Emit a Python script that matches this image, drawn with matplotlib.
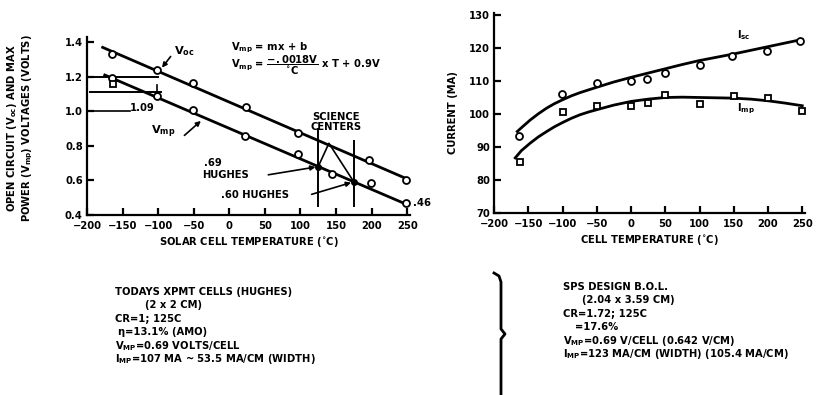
import matplotlib
matplotlib.use("Agg")
import matplotlib.pyplot as plt
from matplotlib.lines import Line2D

plt.rcParams['font.family'] = ['DejaVu Sans']
plt.rcParams['font.weight'] = 'bold'
plt.rcParams['mathtext.fontset'] = 'dejavusans'
plt.rcParams['mathtext.default'] = 'bf'

# Left panel: voltages vs solar cell temperature
temp_ticks = [-200, -150, -100, -50, 0, 50, 100, 150, 200, 250]
volt_ticks = [0.4, 0.6, 0.8, 1.0, 1.2, 1.4]

voc_line_t = [-178, 252]
voc_line_v = [1.37, 0.605]
voc_pts_t = [-165, -102, -51, 24, 97, 196, 248]
voc_pts_v = [1.33, 1.24, 1.165, 1.025, 0.876, 0.72, 0.604]

vmp_line_t = [-175, 250]
vmp_line_v = [1.21, 0.46]
vmp_pts_t = [-165, -102, -51, 22, 97, 145, 199, 248]
vmp_pts_v = [1.195, 1.09, 1.01, 0.857, 0.752, 0.64, 0.585, 0.467]
vmp_sq_t = [-163]
vmp_sq_v = [1.16]

science_t = [125, 175]
science_top = [0.90, 0.83]
science_vmp = [0.68, 0.592]

# Right panel: currents vs cell temperature
cur_ticks = [70, 80, 90, 100, 110, 120, 130]

isc_pts_t = [-164, -101, -50, 0, 23, 49, 100, 147, 198, 246]
isc_pts_i = [93.2, 106.0, 109.5, 110.0, 110.6, 112.4, 114.7, 117.6, 119.2, 122.1]
isc_fit_t = [-166, -158, -147, -135, -123, -112, -100, -87, -74, -62, -50, -25, 0, 25, 50, 75, 100, 125, 150, 175, 200, 225, 250]
isc_fit_i = [94.7, 96.2, 98.2, 100.1, 101.8, 103.1, 104.3, 105.5, 106.5, 107.3, 108.1, 109.7, 111.1, 112.4, 113.7, 115.0, 116.2, 117.2, 118.2, 119.3, 120.4, 121.5, 122.6]

imp_pts_t = [-162, -100, -50, 0, 25, 50, 100, 150, 200, 250]
imp_pts_i = [85.6, 100.5, 102.3, 102.5, 103.3, 105.8, 103.1, 105.3, 104.8, 100.8]
imp_fit_t = [-169, -160, -147, -135, -123, -112, -100, -87, -74, -62, -50, -25, 0, 25, 50, 75, 100, 125, 150, 175, 200, 225, 250]
imp_fit_i = [86.7, 88.9, 91.2, 93.1, 94.7, 96.1, 97.4, 98.7, 99.8, 100.6, 101.3, 102.7, 103.8, 104.5, 105.0, 105.1, 105.0, 104.9, 104.8, 104.5, 104.0, 103.3, 102.5]

W, H = 838, 395
fig = plt.figure(figsize=(W / 100, H / 100), dpi=100)

LW = 2.0
FS = 7.2


def px_axes(x0, y_bottom, x1, y_top):
    return fig.add_axes([x0 / W, 1 - y_bottom / H, (x1 - x0) / W, (y_bottom - y_top) / H])


def style(ax):
    for s in ('top', 'right'):
        ax.spines[s].set_visible(False)
    for s in ('left', 'bottom'):
        ax.spines[s].set_linewidth(1.6)
    ax.tick_params(direction='in', length=5, width=1.6, labelsize=FS)
    ax.tick_params(axis='x', pad=4)
    ax.tick_params(axis='y', pad=3)
    for lab in ax.get_xticklabels() + ax.get_yticklabels():
        lab.set_fontweight('bold')


mk = dict(ms=5, mfc='white', mec='black', mew=1.3, ls='none', zorder=4)
arrow = dict(arrowstyle='-|>', color='black', lw=1.2, mutation_scale=7)

# ---- left panel ----
ax1 = px_axes(87, 215, 410, 37)
ax1.set_xlim(-200, 254)
ax1.set_ylim(0.4, 1.43)
ax1.set_xticks(temp_ticks)
ax1.set_yticks(volt_ticks)
ax1.set_yticklabels(['0.4', '0.6', '0.8', '1.0', '1.2', '1.4'])
style(ax1)

ax1.plot(voc_line_t, voc_line_v, color='black', lw=LW)
ax1.plot(vmp_line_t, vmp_line_v, color='black', lw=LW)
ax1.plot(voc_pts_t, voc_pts_v, marker='o', **mk)
ax1.plot(vmp_pts_t, vmp_pts_v, marker='o', **mk)
ax1.plot(vmp_sq_t, vmp_sq_v, marker='s', **mk)

# reference levels at the cold end
ax1.plot([-200, -100], [1.2, 1.2], color='black', lw=1.4)
ax1.plot([-196, -96], [1.11, 1.11], color='black', lw=1.4)
ax1.plot([-102, -102], [1.08, 1.15], color='black', lw=1.2)
ax1.plot([-200, -140], [1.0, 1.0], color='black', lw=1.2)
ax1.text(-140, 1.02, '1.09', fontsize=FS, fontweight='bold', va='center', ha='left')

# science centre operating temperatures
for t, top, v in zip(science_t, science_top, science_vmp):
    ax1.plot([t, t], [0.45, top], color='black', lw=1.4)
    ax1.plot([t], [v], marker='o', ms=4, color='black', zorder=5)
ax1.plot([125, 140, 175], [0.68, 0.815, 0.592], color='black', lw=1.2)
ax1.text(150, 0.94, 'SCIENCE\nCENTERS', fontsize=FS, fontweight='bold',
         ha='center', va='center', linespacing=1.0)

ax1.annotate('', xy=(125, 0.68), xytext=(51, 0.63), arrowprops=arrow)
ax1.text(-36, 0.70, '.69', fontsize=FS, fontweight='bold', ha='left', va='center')
ax1.text(-38, 0.63, 'HUGHES', fontsize=FS, fontweight='bold', ha='left', va='center')
ax1.annotate('', xy=(175, 0.592), xytext=(112, 0.515), arrowprops=arrow)
ax1.text(-12, 0.515, '.60 HUGHES', fontsize=FS, fontweight='bold', ha='left', va='center')
ax1.text(258, 0.47, '.46', fontsize=FS, fontweight='bold', ha='left', va='center')

ax1.annotate('', xy=(-97, 1.24), xytext=(-80, 1.33), arrowprops=arrow)
ax1.text(-78, 1.35, r'V$_{oc}$', fontsize=FS + 1, ha='left', va='center')
ax1.annotate('', xy=(-37, 0.955), xytext=(-66, 0.85), arrowprops=arrow)
ax1.text(-110, 0.88, r'V$_{mp}$', fontsize=FS + 1, ha='left', va='center')

ax1.text(2, 1.37, r'V$_{mp}$ = mx + b', fontsize=FS, ha='left', va='center')
ax1.text(2, 1.265, r'V$_{mp}$ = $\dfrac{-.0018V}{^{\circ}C}$ x T + 0.9V', fontsize=FS,
         ha='left', va='center')

ax1.set_xlabel('SOLAR CELL TEMPERATURE ($^{\\circ}$C)', fontsize=FS, fontweight='bold', labelpad=3)
fig.text(20 / W, 1 - 128 / H,
         'OPEN CIRCUIT (V$_{oc}$) AND MAX\nPOWER (V$_{mp}$) VOLTAGES (VOLTS)',
         rotation=90, ha='center', va='center', fontsize=FS, fontweight='bold',
         multialignment='center', linespacing=1.1)

# ---- right panel ----
ax2 = px_axes(494, 213, 805, 13)
ax2.set_xlim(-200, 254)
ax2.set_ylim(70, 130.6)
ax2.set_xticks(temp_ticks)
ax2.set_yticks(cur_ticks)
style(ax2)

ax2.plot(isc_fit_t, isc_fit_i, color='black', lw=LW)
ax2.plot(imp_fit_t, imp_fit_i, color='black', lw=LW)
ax2.plot(isc_pts_t, isc_pts_i, marker='o', **mk)
ax2.plot(imp_pts_t, imp_pts_i, marker='s', **mk)
ax2.text(155, 124, r'I$_{sc}$', fontsize=FS, ha='left', va='center')
ax2.text(155, 101.5, r'I$_{mp}$', fontsize=FS, ha='left', va='center')
ax2.set_xlabel('CELL TEMPERATURE ($^{\\circ}$C)', fontsize=FS, fontweight='bold', labelpad=3)
fig.text(453 / W, 1 - 113 / H, 'CURRENT (MA)', rotation=90, ha='center', va='center',
         fontsize=FS, fontweight='bold')

# ---- notes under the panels ----
left_notes = [
    (115, 'TODAYS XPMT CELLS (HUGHES)'),
    (145, '(2 x 2 CM)'),
    (115, 'CR=1; 125C'),
    (118, '\u03b7=13.1% (AMO)'),
    (115, 'V$_{MP}$=0.69 VOLTS/CELL'),
    (115, 'I$_{MP}$=107 MA ~ 53.5 MA/CM (WIDTH)'),
]
right_notes = [
    (563, 'SPS DESIGN B.O.L.'),
    (582, '(2.04 x 3.59 CM)'),
    (563, 'CR=1.72; 125C'),
    (575, '=17.6%'),
    (563, 'V$_{MP}$=0.69 V/CELL (0.642 V/CM)'),
    (563, 'I$_{MP}$=123 MA/CM (WIDTH) (105.4 MA/CM)'),
]
for row, (x, s) in enumerate(left_notes):
    fig.text(x / W, 1 - (292 + row * 13.4) / H, s, fontsize=FS, fontweight='bold', va='center')
for row, (x, s) in enumerate(right_notes):
    fig.text(x / W, 1 - (287 + row * 13.4) / H, s, fontsize=FS, fontweight='bold', va='center')

# brace between the two note blocks
bx = [494, 499, 501, 501, 505, 501, 501]
by = [273, 276, 282, 329, 334, 339, 395]
fig.add_artist(Line2D([x / W for x in bx], [1 - y / H for y in by], color='black', lw=2.0))

fig.savefig('out.png', dpi=100)
